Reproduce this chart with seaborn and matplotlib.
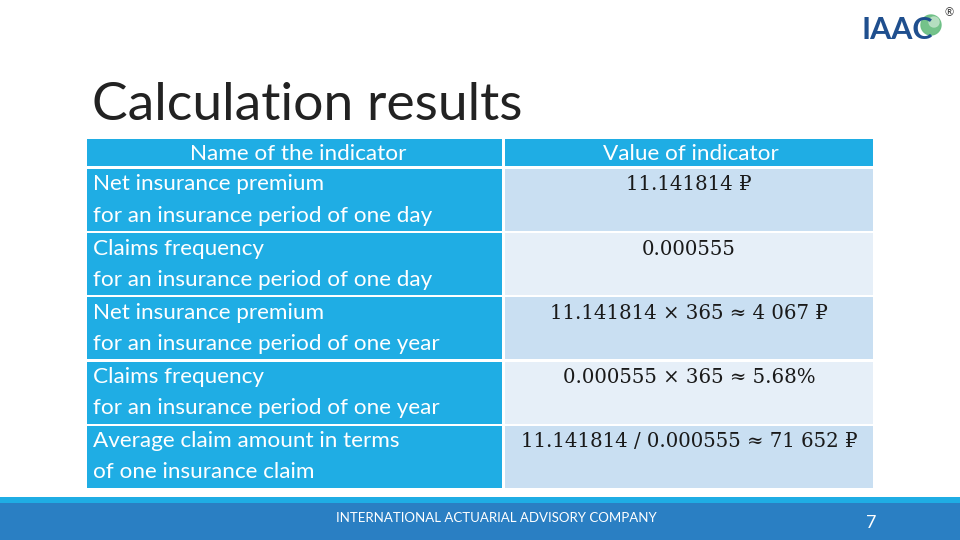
import matplotlib
matplotlib.use("Agg")
import matplotlib.pyplot as plt
import seaborn as sns
from matplotlib.patches import Circle

# table content
header = ["Name of the indicator", "Value of indicator"]
indicators = [
    ("Net insurance premium", "for an insurance period of one day"),
    ("Claims frequency", "for an insurance period of one day"),
    ("Net insurance premium", "for an insurance period of one year"),
    ("Claims frequency", "for an insurance period of one year"),
    ("Average claim amount in terms", "of one insurance claim"),
]
values = [
    "11.141814 \u20bd",
    "0.000555",
    "11.141814 \u00d7 365 \u2248 4 067 \u20bd",
    "0.000555 \u00d7 365 \u2248 5.68%",
    "11.141814 / 0.000555 \u2248 71 652 \u20bd",
]

title = "Calculation results"
footer = "INTERNATIONAL ACTUARIAL ADVISORY COMPANY"
page_no = "7"

cyan = "#1fade4"
shade_dark = "#c9dff2"
shade_light = "#e6eff8"
footer_blue = "#2a7fc3"

sns.set_theme(style="white")
plt.rcParams["font.family"] = ["Lato", "DejaVu Sans"]

fig = plt.figure(figsize=(9.6, 5.4), dpi=100)
ax = fig.add_axes([0, 0, 1, 1])
ax.set_xlim(0, 960)
ax.set_ylim(540, 0)
ax.axis("off")

# title
ax.text(92, 120, title, fontsize=38.5, color="#222222", ha="left", va="baseline")

# table geometry
left_x, left_w = 87, 415
right_x, right_w = 505, 368
head_top, head_h = 139, 27
row_top0, row_h, row_step = 169, 62, 64.2

# header row
ax.barh([head_top + head_h / 2] * 2, [left_w, right_w], left=[left_x, right_x],
        height=head_h, color=cyan, linewidth=0)
ax.text(left_x + left_w / 2 + 4, head_top + head_h / 2 + 1, header[0], color="white",
        fontsize=16.2, ha="center", va="center")
ax.text(right_x + right_w / 2 + 2, head_top + head_h / 2 + 1, header[1], color="white",
        fontsize=16.2, ha="center", va="center")

centers = [row_top0 + i * row_step + row_h / 2 for i in range(len(indicators))]
ax.barh(centers, [left_w] * len(indicators), left=left_x, height=row_h,
        color=cyan, linewidth=0)
ax.barh(centers, [right_w] * len(values), left=right_x, height=row_h,
        color=[shade_dark if i % 2 == 0 else shade_light for i in range(len(values))],
        linewidth=0)

for i, ((line1, line2), val) in enumerate(zip(indicators, values)):
    top = row_top0 + i * row_step
    ax.text(left_x + 6, top + 15.5, line1, color="white", fontsize=16.2,
            ha="left", va="center")
    ax.text(left_x + 6, top + 46.5, line2, color="white", fontsize=16.2,
            ha="left", va="center")
    ax.text(right_x + right_w / 2, top + 16, val, color="#1a1a1a", fontsize=14.2,
            ha="center", va="center", family=["DejaVu Serif", "DejaVu Sans"])

# footer band
ax.barh([500], [960], left=0, height=6, color=cyan, linewidth=0)
ax.barh([521.5], [960], left=0, height=37, color=footer_blue, linewidth=0)
ax.text(496, 518, footer, color="white", fontsize=9.5, ha="center", va="center")
ax.text(871, 523, page_no, color="white", fontsize=13, ha="center", va="center")

# logo
ax.text(862, 39, "IAAC", color="#1f4f8e", fontsize=22, fontweight="bold",
        ha="left", va="baseline")
ax.add_patch(Circle((931, 25), 10, color="#6cbf84", alpha=0.95))
ax.add_patch(Circle((934, 22), 5, color="#b9e0c4", alpha=0.95))
ax.text(949, 13, "\u00ae", color="#333333", fontsize=8, ha="center", va="center")

fig.savefig("out.png", dpi=100)
